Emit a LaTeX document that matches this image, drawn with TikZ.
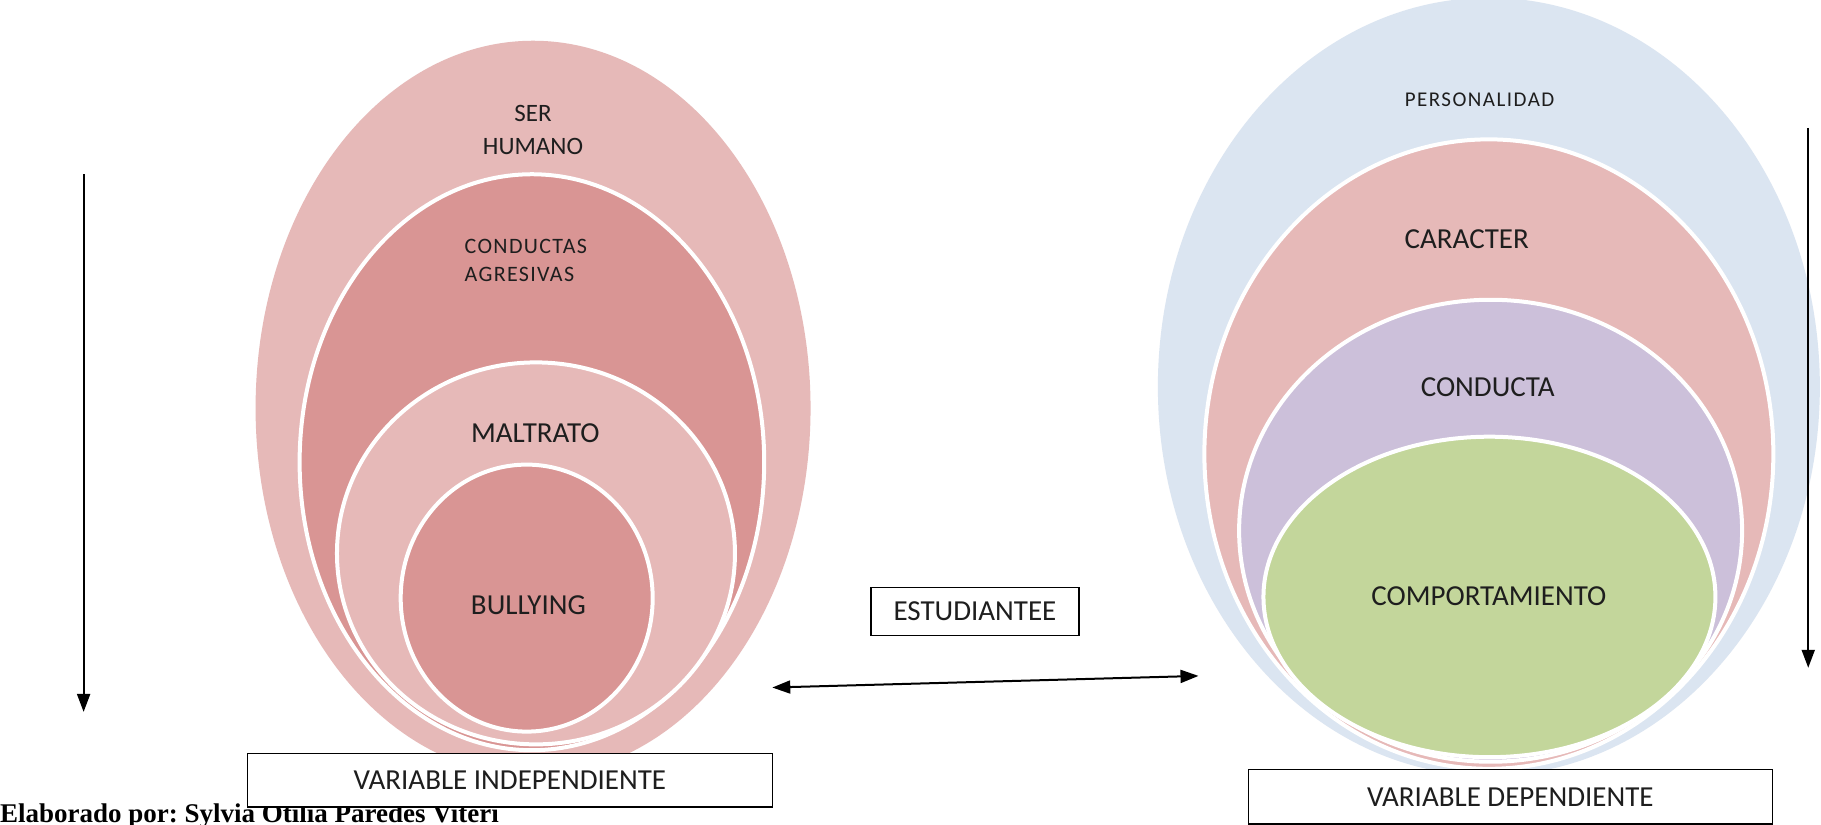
\documentclass[tikz,border=0pt]{standalone}
\usepackage{fontspec}
\setmainfont{Carlito}
\newfontfamily\tnr{Liberation Serif}
\usetikzlibrary{shapes.geometric,arrows.meta}
\definecolor{pinkA}{HTML}{E6B9B8}
\definecolor{pinkB}{HTML}{D99594}
\definecolor{blueA}{HTML}{DBE5F1}
\definecolor{lilac}{HTML}{CCC0DA}
\definecolor{greenA}{HTML}{C3D69B}
\definecolor{ink}{HTML}{1E1E1E}
\frenchspacing
\begin{document}
\begin{tikzpicture}[x=1.1614pt,y=-1.1614pt,
  oval/.style={ellipse, inner sep=0pt, outer sep=0pt},
  ring/.style={oval, draw=white, line width=4pt},
  lbl/.style={inner sep=0pt, text=ink, font=\fontsize{29}{34}\selectfont},
  spaced/.style={inner sep=0pt, text=ink, align=left},
  vbox/.style={draw=black, line width=1.4pt, fill=white, inner sep=0pt, text=ink, font=\fontsize{29}{34}\selectfont},
  arr/.style={line width=2pt, -{Triangle[length=18pt,width=13pt]}},
  darr/.style={line width=2pt, {Triangle[length=18pt,width=13pt]}-{Triangle[length=18pt,width=13pt]}}]
\useasboundingbox (0,0) rectangle (1568,710);
\fill[white] (0,0) rectangle (1568,710);

% left group
\node[oval, fill=pinkA, minimum width=555pt, minimum height=735pt] (humano) at (459,351.5) {};
\node[ring, fill=pinkB, minimum width=464.6pt, minimum height=576pt] (agres) at (458,398) {};
\node[ring, fill=pinkA, minimum width=398pt, minimum height=382pt] (maltrato) at (461.5,476.5) {};
\node[ring, fill=pinkB, minimum width=252pt, minimum height=267pt] (bullying) at (453.5,515) {};

\node[lbl, align=center, font=\fontsize{25}{32.5}\selectfont] (thumano) at (459,112) {SER\\HUMANO};
\node[spaced, anchor=west, font=\fontsize{22}{28}\selectfont\addfontfeature{LetterSpace=6}] (tagres) at (400,224) {CONDUCTAS\\AGRESIVAS};
\node[lbl] (tmaltrato) at (461,373) {MALTRATO};
\node[lbl] (tbullying) at (455,521) {BULLYING};

% right group
\node[oval, fill=blueA, minimum width=662pt, minimum height=778pt] (person) at (1282,333) {};
\node[ring, fill=pinkA, minimum width=569pt, minimum height=629.5pt] (caracter) at (1282,391) {};
\node[ring, fill=lilac, minimum width=503pt, minimum height=462pt] (conducta) at (1283.5,457) {};
\node[ring, fill=greenA, minimum width=452pt, minimum height=320.5pt] (comport) at (1282.5,514) {};

\node[spaced, font=\fontsize{21}{24}\selectfont\addfontfeature{LetterSpace=7}] (tperson) at (1274,86) {PERSONALIDAD};
\node[lbl] (tcaracter) at (1263,206) {CARACTER};
\node[lbl] (tconducta) at (1281,333) {CONDUCTA};
\node[lbl] (tcomport) at (1282,513) {COMPORTAMIENTO};

% author
\node[anchor=base west, inner sep=0pt, font=\tnr\bfseries\fontsize{27}{30}\selectfont] (autor) at (0,708) {Elaborado por: Sylvia Otilia Paredes Viteri};

% boxes
\node[vbox, minimum width=525pt, minimum height=53.4pt] (vi) at (439,672) {VARIABLE INDEPENDIENTE};
\node[vbox, minimum width=524pt, minimum height=54.6pt] (vd) at (1300.5,686) {VARIABLE DEPENDIENTE};
\node[vbox, minimum width=208pt, minimum height=47.6pt] (est) at (839.5,526.5) {ESTUDIANTEE};

% arrows
\coordinate (la1) at (72,150);
\coordinate (la2) at (72,613);
\coordinate (ra1) at (1557,110);
\coordinate (ra2) at (1557,575);
\coordinate (da1) at (665,592);
\coordinate (da2) at (1032,582);
\draw[arr] (la1) -- (la2);
\draw[arr] (ra1) -- (ra2);
\draw[darr] (da1) -- (da2);
\end{tikzpicture}
\end{document}
